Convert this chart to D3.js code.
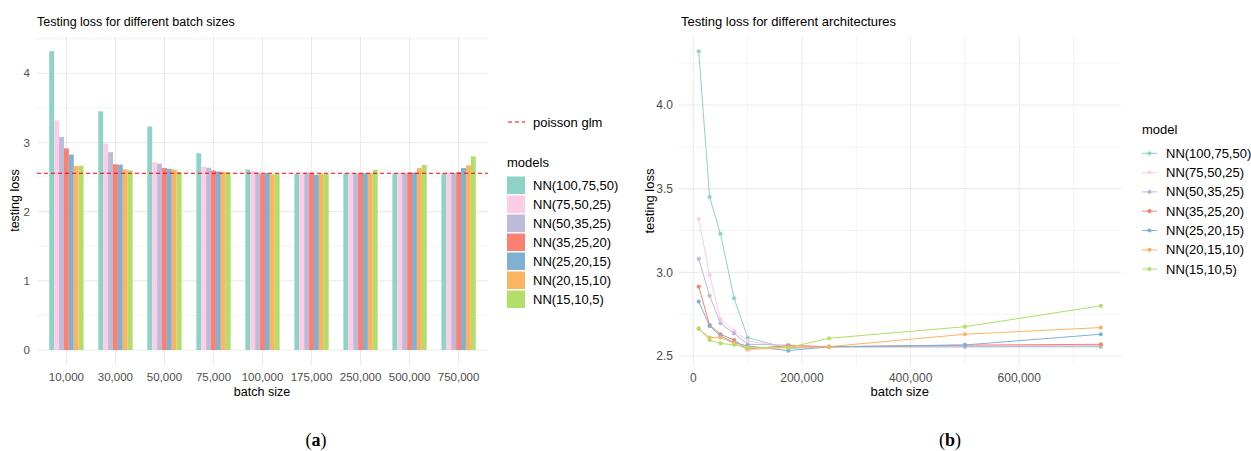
<!DOCTYPE html>
<html>
<head>
<meta charset="utf-8">
<script src="https://cdn.jsdelivr.net/npm/d3@7"></script>
<style>
  body { margin: 0; background: #fff; }
  svg { display: block; font-family: "Liberation Sans", Arial, sans-serif; }
</style>
</head>
<body>
<svg id="chart" width="1251" height="451"></svg>
<script>
// batch sizes used on both panels
const batchSizes = [10000, 30000, 50000, 75000, 100000, 175000, 250000, 500000, 750000];
const models = ["NN(100,75,50)", "NN(75,50,25)", "NN(50,35,25)", "NN(35,25,20)", "NN(25,20,15)", "NN(20,15,10)", "NN(15,10,5)"];
const colors = ["#8DD3C7", "#FCCDE5", "#BEBADA", "#FB8072", "#80B1D3", "#FDB462", "#B3DE69"];

// testing loss per model, one value per batch size
const lossNN100 = [4.32, 3.45, 3.23, 2.845, 2.61, 2.545, 2.555, 2.555, 2.555];
const lossNN75  = [3.32, 2.985, 2.72, 2.65, 2.59, 2.55, 2.555, 2.56, 2.565];
const lossNN50  = [3.08, 2.86, 2.695, 2.635, 2.57, 2.565, 2.555, 2.555, 2.56];
const lossNN35  = [2.915, 2.685, 2.63, 2.595, 2.542, 2.562, 2.555, 2.565, 2.57];
const lossNN25  = [2.825, 2.68, 2.62, 2.58, 2.56, 2.532, 2.555, 2.566, 2.63];
const lossNN20  = [2.662, 2.61, 2.61, 2.575, 2.54, 2.55, 2.556, 2.63, 2.67];
const lossNN15  = [2.665, 2.595, 2.575, 2.567, 2.552, 2.55, 2.606, 2.675, 2.80];
const poissonGlm = 2.555;

const losses = [lossNN100, lossNN75, lossNN50, lossNN35, lossNN25, lossNN20, lossNN15];
const rows = [];
models.forEach((m, i) => batchSizes.forEach((b, j) => rows.push({model: m, batch: b, loss: losses[i][j]})));

const svg = d3.select("#chart");
const fmt = d3.format(",");
const color = d3.scaleOrdinal(models, colors);
const gridMajor = "#EBEBEB", tickCol = "#4D4D4D";

// ---------- (a) bars ----------
const xa = d3.scaleBand().domain(batchSizes).range([37, 488]).paddingInner(0.3).paddingOuter(0.25);
const xm = d3.scaleBand().domain(models).range([0, xa.bandwidth()]);
const ya = d3.scaleLinear().domain([0, 4]).range([350, 73.3]);
const maxA = d3.max(rows, d => d.loss);
const topA = ya(maxA * 1.05), botA = ya(-maxA * 0.05);

const ga = svg.append("g");
ga.selectAll("line.minor").data([0.5, 1.5, 2.5, 3.5, 4.5]).join("line")
    .attr("x1", 37).attr("x2", 488).attr("y1", d => ya(d)).attr("y2", d => ya(d))
    .attr("stroke", gridMajor).attr("stroke-width", 0.6);
ga.selectAll("line.major").data([0, 1, 2, 3, 4]).join("line")
    .attr("x1", 37).attr("x2", 488).attr("y1", d => ya(d)).attr("y2", d => ya(d))
    .attr("stroke", gridMajor).attr("stroke-width", 1.1);
ga.selectAll("line.vx").data(batchSizes).join("line")
    .attr("x1", d => xa(d) + xa.bandwidth() / 2).attr("x2", d => xa(d) + xa.bandwidth() / 2)
    .attr("y1", topA).attr("y2", botA)
    .attr("stroke", gridMajor).attr("stroke-width", 1.1);

ga.selectAll("rect.bar").data(rows).join("rect")
    .attr("x", d => xa(d.batch) + xm(d.model))
    .attr("width", xm.bandwidth())
    .attr("y", d => ya(d.loss))
    .attr("height", d => ya(0) - ya(d.loss))
    .attr("fill", d => color(d.model));

ga.append("line")
    .attr("x1", 37).attr("x2", 488).attr("y1", ya(poissonGlm)).attr("y2", ya(poissonGlm))
    .attr("stroke", "#FF0000").attr("stroke-width", 1).attr("stroke-dasharray", "4,3");

ga.selectAll("text.yt").data([0, 1, 2, 3, 4]).join("text")
    .attr("x", 30).attr("y", d => ya(d)).attr("dy", "0.35em")
    .attr("text-anchor", "end").attr("font-size", 11.5).attr("fill", tickCol)
    .text(d => d);
ga.selectAll("text.xt").data(batchSizes).join("text")
    .attr("x", d => xa(d) + xa.bandwidth() / 2).attr("y", 381)
    .attr("text-anchor", "middle").attr("font-size", 11.5).attr("fill", tickCol)
    .text(d => fmt(d));
ga.append("text").attr("x", 262).attr("y", 396).attr("text-anchor", "middle")
    .attr("font-size", 12.5).text("batch size");
ga.append("text").attr("transform", `translate(19,${(topA + botA) / 2}) rotate(-90)`)
    .attr("text-anchor", "middle").attr("font-size", 12.5).text("testing loss");
ga.append("text").attr("x", 37).attr("y", 26).attr("font-size", 12.5).text("Testing loss for different batch sizes");

// legend (a)
const la = svg.append("g").attr("transform", "translate(507,0)");
la.append("line").attr("x1", 1).attr("x2", 18).attr("y1", 122).attr("y2", 122)
    .attr("stroke", "#FF0000").attr("stroke-dasharray", "4,3");
la.append("text").attr("x", 26).attr("y", 122).attr("dy", "0.35em").attr("font-size", 13).text("poisson glm");
la.append("text").attr("x", 0).attr("y", 167).attr("font-size", 13).text("models");
la.selectAll("rect").data(models).join("rect")
    .attr("x", 0).attr("y", (d, i) => 176.5 + i * 19).attr("width", 18).attr("height", 17.5)
    .attr("fill", d => color(d));
la.selectAll("text.lab").data(models).join("text")
    .attr("x", 26).attr("y", (d, i) => 185.5 + i * 19).attr("dy", "0.35em")
    .attr("font-size", 13).text(d => d);

// ---------- (b) lines ----------
const xb = d3.scaleLinear().domain([0, 600000]).range([693.3, 1019.3]);
const yb = d3.scaleLinear().domain([2.5, 4.0]).range([356, 105]);
const [bx0, bx1] = d3.extent(batchSizes);
const [by0, by1] = d3.extent(rows, d => d.loss);
const leftB = xb(bx0 - (bx1 - bx0) * 0.05), rightB = xb(bx1 + (bx1 - bx0) * 0.05);
const topB = yb(by1 + (by1 - by0) * 0.05), botB = yb(by0 - (by1 - by0) * 0.05);

const gb = svg.append("g");
gb.selectAll("line.hmin").data([2.75, 3.25, 3.75, 4.25]).join("line")
    .attr("x1", leftB).attr("x2", rightB).attr("y1", d => yb(d)).attr("y2", d => yb(d))
    .attr("stroke", gridMajor).attr("stroke-width", 0.6);
gb.selectAll("line.hmaj").data([2.5, 3.0, 3.5, 4.0]).join("line")
    .attr("x1", leftB).attr("x2", rightB).attr("y1", d => yb(d)).attr("y2", d => yb(d))
    .attr("stroke", gridMajor).attr("stroke-width", 1.1);
gb.selectAll("line.vmin").data([100000, 300000, 500000, 700000]).join("line")
    .attr("x1", d => xb(d)).attr("x2", d => xb(d)).attr("y1", topB).attr("y2", botB)
    .attr("stroke", gridMajor).attr("stroke-width", 0.6);
gb.selectAll("line.vmaj").data([0, 200000, 400000, 600000]).join("line")
    .attr("x1", d => xb(d)).attr("x2", d => xb(d)).attr("y1", topB).attr("y2", botB)
    .attr("stroke", gridMajor).attr("stroke-width", 1.1);

const line = d3.line().x(d => xb(d.batch)).y(d => yb(d.loss));
const byModel = d3.group(rows, d => d.model);
models.forEach(m => {
    const g = gb.append("g");
    g.append("path").datum(byModel.get(m)).attr("d", line)
        .attr("fill", "none").attr("stroke", color(m)).attr("stroke-width", 1);
    g.selectAll("circle").data(byModel.get(m)).join("circle")
        .attr("cx", d => xb(d.batch)).attr("cy", d => yb(d.loss)).attr("r", 2.1)
        .attr("fill", color(m));
});

gb.selectAll("text.yt").data([2.5, 3.0, 3.5, 4.0]).join("text")
    .attr("x", 673).attr("y", d => yb(d)).attr("dy", "0.35em")
    .attr("text-anchor", "end").attr("font-size", 12).attr("fill", tickCol)
    .text(d => d3.format(".1f")(d));
gb.selectAll("text.xt").data([0, 200000, 400000, 600000]).join("text")
    .attr("x", d => xb(d)).attr("y", 382)
    .attr("text-anchor", "middle").attr("font-size", 12).attr("fill", tickCol)
    .text(d => fmt(d));
gb.append("text").attr("x", (leftB + rightB) / 2).attr("y", 396).attr("text-anchor", "middle")
    .attr("font-size", 13).text("batch size");
gb.append("text").attr("transform", `translate(654,${(topB + botB) / 2}) rotate(-90)`)
    .attr("text-anchor", "middle").attr("font-size", 13).text("testing loss");
gb.append("text").attr("x", 681).attr("y", 26).attr("font-size", 13).text("Testing loss for different architectures");

// legend (b)
const lb = svg.append("g").attr("transform", "translate(1142,0)");
lb.append("text").attr("x", 0).attr("y", 134).attr("font-size", 13).text("model");
models.forEach((m, i) => {
    const yy = 153.3 + i * 19.3;
    lb.append("line").attr("x1", 0).attr("x2", 15).attr("y1", yy).attr("y2", yy)
        .attr("stroke", color(m)).attr("stroke-width", 1);
    lb.append("circle").attr("cx", 7.5).attr("cy", yy).attr("r", 2.1).attr("fill", color(m));
    lb.append("text").attr("x", 24).attr("y", yy).attr("dy", "0.35em").attr("font-size", 13).text(m);
});

// panel captions
[["a", 316], ["b", 950]].forEach(([c, x]) => {
    const t = svg.append("text").attr("x", x).attr("y", 446).attr("text-anchor", "middle")
        .attr("font-family", "'Liberation Serif', serif").attr("font-size", 18);
    t.append("tspan").text("(");
    t.append("tspan").attr("font-weight", "bold").text(c);
    t.append("tspan").text(")");
});
</script>
</body>
</html>
